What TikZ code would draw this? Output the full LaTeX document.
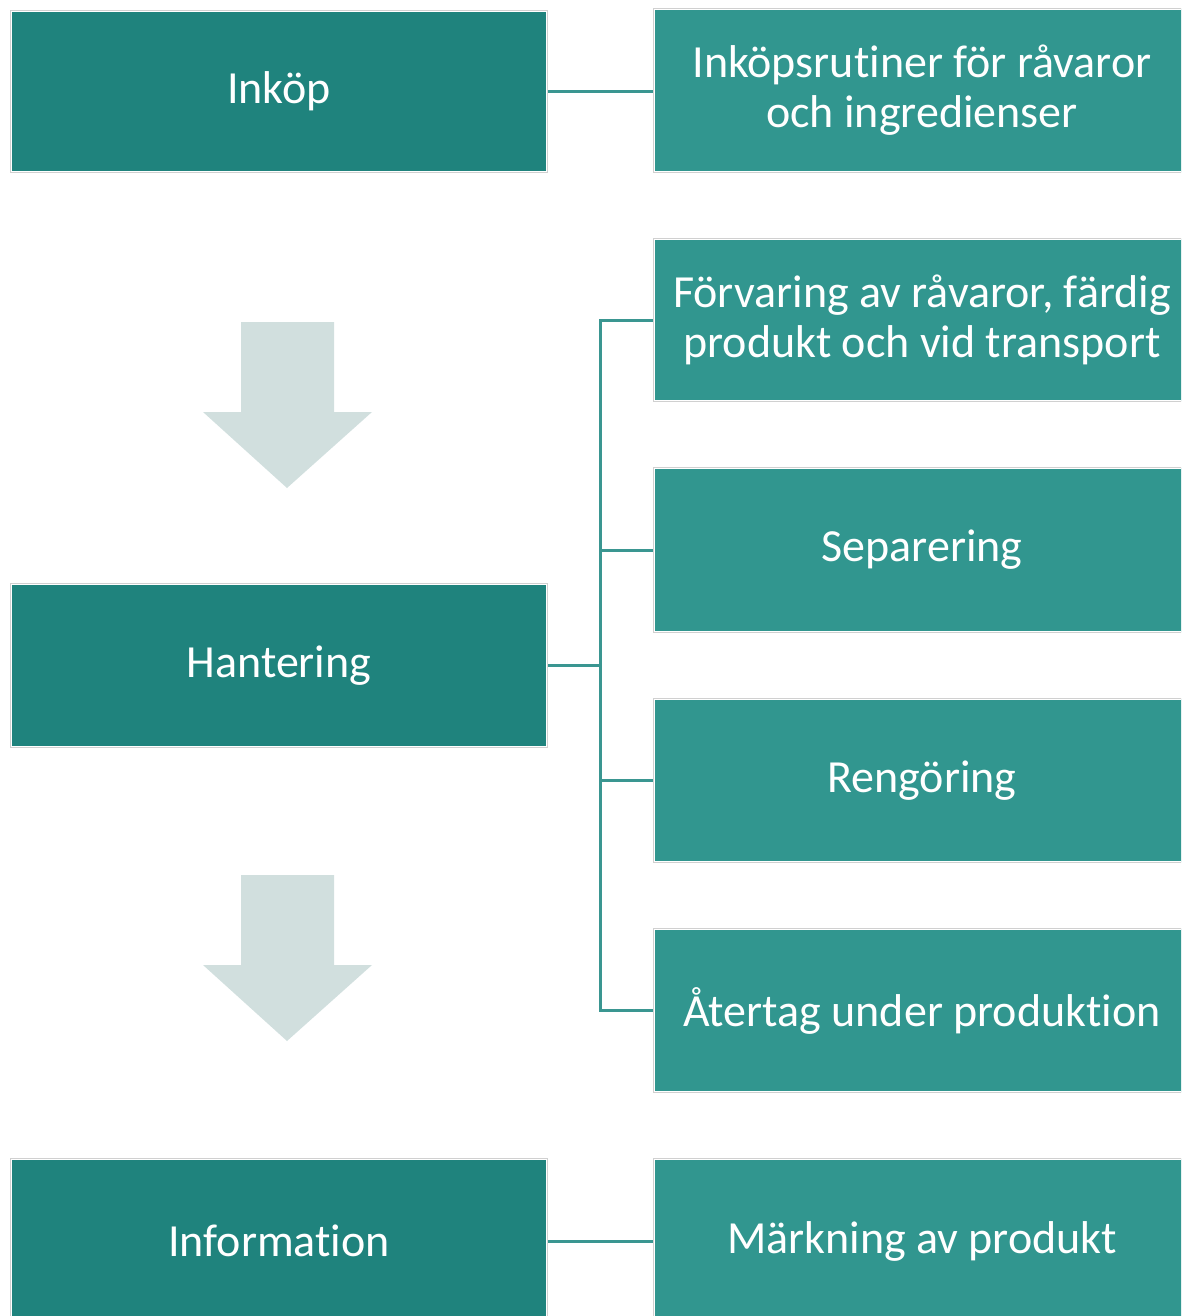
\documentclass[tikz,border=0pt]{standalone}
\usepackage{fontspec}
\setmainfont{Carlito}[Ligatures=NoCommon]
\definecolor{darkteal}{HTML}{1F837D}
\definecolor{lightteal}{HTML}{31968F}
\definecolor{arrowgray}{HTML}{D1DFDE}
\definecolor{linecol}{HTML}{3A9691}
\definecolor{framegray}{HTML}{D0D0D0}
\begin{document}
\begin{tikzpicture}[x=1pt,y=-1pt,
  box/.style={anchor=center, draw=white, line width=1.5pt, inner sep=0pt,
    text=white, font=\fontsize{46}{50}\selectfont, align=center,
    minimum width=536pt, minimum height=161pt},
  leftbox/.style={box, fill=darkteal},
  rightbox/.style={box, fill=lightteal},
  frameline/.style={draw=framegray, line width=1pt},
  conn/.style={draw=linecol, line width=3pt, line join=miter},
  bigarrow/.style={fill=arrowgray}]
\useasboundingbox (0,0) rectangle (1181,1316);
\clip (0,0) rectangle (1181,1316);

% left column
\node[leftbox] (inkop) at (279,91.5) {Inköp};
\node[leftbox, minimum height=163pt] (hant) at (279,665.5) {Hantering};
\node[leftbox, minimum height=164pt] (info) at (279,1241) {Information};

% right column
\node[rightbox, minimum height=163pt] (inkopr) at (922,90.5) {Inköpsrutiner för råvaror\\och ingredienser};
\node[rightbox, minimum height=162pt] (forv) at (922,320) {Förvaring av råvaror, färdig\\produkt och vid transport};
\node[rightbox, minimum height=164pt] (sep) at (922,550) {Separering};
\node[rightbox, minimum height=163pt] (reng) at (922,780.5) {Rengöring};
\node[rightbox, minimum height=163pt] (ater) at (922,1010.5) {Återtag under produktion};
\node[rightbox, minimum height=164pt] (mark) at (922,1241) {Märkning av produkt};

% thin grey frames
\foreach \n in {inkop,hant,info,inkopr,forv,sep,reng,ater,mark}
  \draw[frameline] (\n.north west) rectangle (\n.south east);

% connectors
\coordinate (bus) at (600,665.5);
\draw[conn] (inkop.east) -- (inkopr.west |- inkop.east);
\draw[conn] (hant.east) -- (bus);
\draw[conn] (bus) |- (forv.west);
\draw[conn] (bus) |- (sep.west);
\draw[conn] (bus) |- (reng.west);
\draw[conn] (bus) |- (ater.west);
\draw[conn] (info.east) -- (mark.west);

% big down arrows
\fill[bigarrow] (241,322) -- (334,322) -- (334,412) -- (372,412) -- (287,488)
  -- (203,412) -- (241,412) -- cycle;
\fill[bigarrow] (241,875) -- (334,875) -- (334,965) -- (372,965) -- (287,1041)
  -- (203,965) -- (241,965) -- cycle;
\end{tikzpicture}
\end{document}
